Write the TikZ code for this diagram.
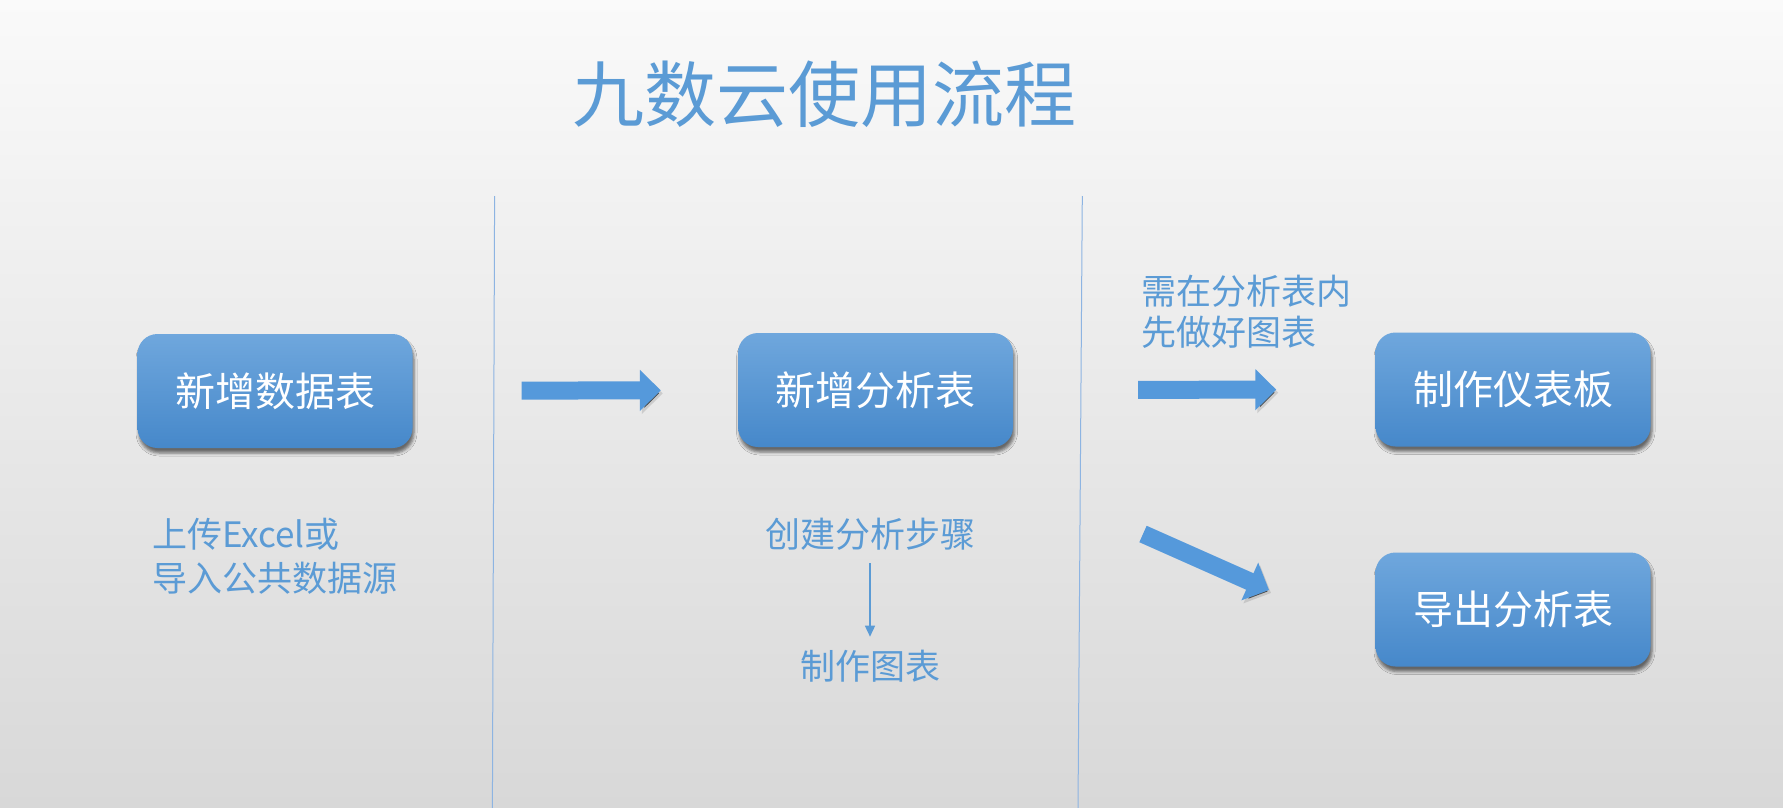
\documentclass[tikz,border=0pt]{standalone}
\usepackage{fontspec}
\setmainfont{Noto Sans CJK SC}
\usepackage{tikz}
\usetikzlibrary{arrows.meta,shadows.blur}

\definecolor{bgtop}{HTML}{FAFAFA}
\definecolor{bgbottom}{HTML}{D8D8D8}
\definecolor{titleblue}{HTML}{5B9BD5}
\definecolor{noteblue}{HTML}{5B9BD5}
\definecolor{boxtop}{HTML}{6FA7DD}
\definecolor{boxbottom}{HTML}{4688CA}
\definecolor{arrowblue}{HTML}{5599DB}
\definecolor{lineblue}{HTML}{8DB4E2}

\tikzset{
	flowbox/.style={rounded corners=20pt, minimum width=275pt, minimum height=114pt,
		top color=boxtop, bottom color=boxbottom, text=white,
		font=\fontsize{40}{48}\selectfont,
		blur shadow={shadow xshift=1.5pt, shadow yshift=-5pt, shadow blur radius=3pt, shadow opacity=55}},
	note/.style={inner sep=0pt, text=noteblue, font=\fontsize{35}{44}\selectfont},
	blockarrow/.style={draw=arrowblue, line width=18pt, -{Triangle[length=21pt,width=40pt]},
		preaction={draw=black!70, draw opacity=0.18, transform canvas={xshift=2pt, yshift=-3pt}}},
	thinarrow/.style={draw=noteblue, line width=1.5pt, -{Triangle[length=11pt,width=10pt]}},
	divider/.style={draw=lineblue, line width=1pt}
}

\begin{document}
\begin{tikzpicture}[x=1pt, y=-1pt]
			%%%%% START %%%%%
			
			\useasboundingbox (0, 0) rectangle (1783, 808);
			\shade[top color=bgtop, bottom color=bgbottom] (0, 0) rectangle (1783, 808);
			
			\node[inner sep=0pt, text=titleblue, font=\fontsize{72}{80}\selectfont] (title) at (824, 94) {九数云使用流程};
			
			\draw[divider] (494.6, 196) -- (492.4, 808);
			\draw[divider] (1082.3, 196) -- (1078, 808);
			
			\node[flowbox] (databox) at (275, 391) {新增数据表};
			\node[flowbox] (anabox) at (875.5, 390) {新增分析表};
			\node[flowbox] (dashbox) at (1513, 389.5) {制作仪表板};
			\node[flowbox] (exportbox) at (1513, 609.5) {导出分析表};
			
			\node[note, anchor=west, align=left] (uploadnote) at (152, 556) {上传Excel或\\导入公共数据源};
			\node[note] (stepsnote) at (870, 534) {创建分析步骤};
			\node[note] (chartnote) at (870, 666) {制作图表};
			\node[note, anchor=west, align=left, font=\fontsize{35}{41.5}\selectfont] (dashnote) at (1141, 312) {需在分析表内\\先做好图表};
			
			\draw[blockarrow, shorten <=109pt, shorten >=77pt] (databox) -- (anabox);
			\draw[blockarrow, shorten <=125pt, shorten >=99pt] (anabox) -- (dashbox);
			\coordinate (forktail) at (1143, 534);
			\coordinate (forktip) at (1269, 590);
			\draw[blockarrow] (forktail) -- (forktip);
			
			\draw[thinarrow, shorten <=13pt, shorten >=13pt] (stepsnote) -- (chartnote);
			
			%%%%% END %%%%%
\end{tikzpicture}
\end{document}
